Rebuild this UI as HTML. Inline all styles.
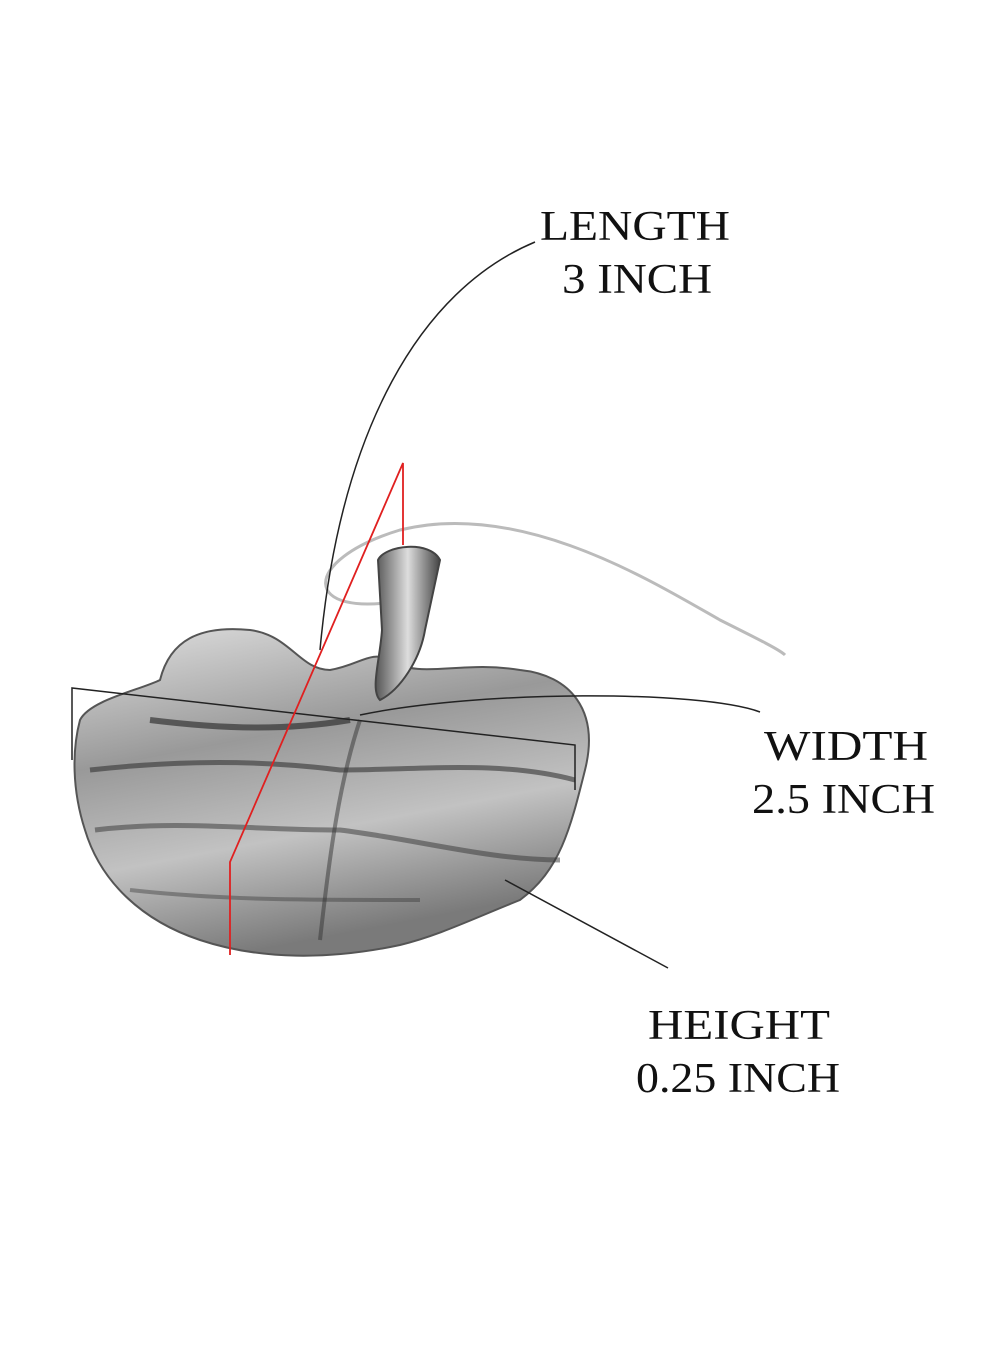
<!DOCTYPE html>
<html><head><meta charset="utf-8"><style>
html,body{margin:0;padding:0;background:#fff;}
svg{display:block}
text{font-family:"Liberation Serif",serif;font-size:42px;fill:#111;}
</style></head><body>
<svg width="1000" height="1364" viewBox="0 0 1000 1364">
<defs>
<linearGradient id="g" x1="0" y1="0" x2="0.3" y2="1">
<stop offset="0" stop-color="#e0e0e0"/><stop offset="0.4" stop-color="#999"/><stop offset="0.7" stop-color="#c2c2c2"/><stop offset="1" stop-color="#7a7a7a"/>
</linearGradient>
<linearGradient id="s" x1="0" y1="0" x2="1" y2="0">
<stop offset="0" stop-color="#555"/><stop offset="0.5" stop-color="#ddd"/><stop offset="1" stop-color="#444"/>
</linearGradient>
</defs>
<path d="M405 600 C300 620 300 560 400 530 C520 500 650 580 720 620 C760 640 780 650 785 655" fill="none" stroke="#bbb" stroke-width="3"/>
<path d="M80 720 C90 700 140 690 160 680 C170 640 200 625 250 630 C290 635 300 670 330 670 C360 665 370 650 390 660 C420 680 460 660 520 670 C570 675 600 710 585 770 C570 830 560 870 520 900 C470 920 440 935 400 945 C330 960 260 960 200 940 C140 920 100 880 85 830 C72 790 72 750 80 720 Z" fill="url(#g)" stroke="#555" stroke-width="2"/>
<path d="M90 770 C180 760 260 760 340 770 C420 770 500 760 575 780" fill="none" stroke="#333" stroke-width="5" opacity="0.6"/>
<path d="M95 830 C180 820 250 830 340 830 C420 840 490 860 560 860" fill="none" stroke="#333" stroke-width="5" opacity="0.5"/>
<path d="M150 720 C230 730 290 730 350 720" fill="none" stroke="#222" stroke-width="6" opacity="0.6"/>
<path d="M360 720 C340 780 330 850 320 940" fill="none" stroke="#333" stroke-width="4" opacity="0.5"/>
<path d="M130 890 C220 900 300 900 420 900" fill="none" stroke="#333" stroke-width="4" opacity="0.4"/>
<path d="M378 560 C385 545 430 540 440 560 L425 630 C420 660 400 690 380 700 C370 690 380 660 382 630 Z" fill="url(#s)" stroke="#444" stroke-width="2"/>
<path d="M535 242 C420 290 340 430 320 650" fill="none" stroke="#222" stroke-width="1.5"/>
<path d="M760 712 C700 690 480 690 360 715" fill="none" stroke="#222" stroke-width="1.5"/>
<polyline points="72,760 72,688 575,745 575,790" fill="none" stroke="#222" stroke-width="1.5"/>
<line x1="505" y1="880" x2="668" y2="968" stroke="#222" stroke-width="1.5"/>
<polyline points="403,545 403,463 230,862 230,955" fill="none" stroke="#e02020" stroke-width="1.8"/>
<text x="540" y="240" textLength="190" lengthAdjust="spacingAndGlyphs">LENGTH</text>
<text x="562" y="293" textLength="150" lengthAdjust="spacingAndGlyphs">3 INCH</text>
<text x="764" y="760" textLength="164" lengthAdjust="spacingAndGlyphs">WIDTH</text>
<text x="752" y="813" textLength="183" lengthAdjust="spacingAndGlyphs">2.5 INCH</text>
<text x="648" y="1039" textLength="182" lengthAdjust="spacingAndGlyphs">HEIGHT</text>
<text x="636" y="1092" textLength="204" lengthAdjust="spacingAndGlyphs">0.25 INCH</text>
</svg>
</body></html>
